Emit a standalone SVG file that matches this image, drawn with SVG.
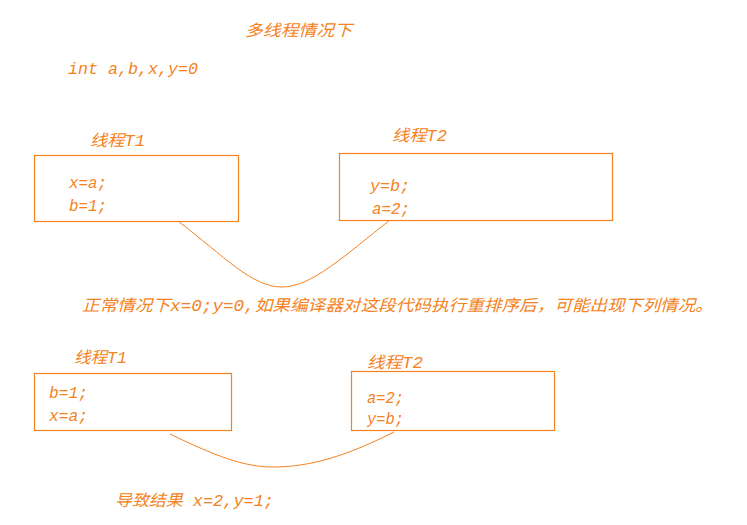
<svg xmlns="http://www.w3.org/2000/svg" width="747" height="525" viewBox="0 0 747 525">
<style>
  text { font-family: "Liberation Mono", "Noto Sans CJK SC", monospace; font-style: italic; font-size: 16px; fill: #F58220; }
  .box { fill: none; stroke: #F58220; stroke-width: 1.2; }
  .conn { fill: none; stroke: #F58220; stroke-width: 1; }
</style>
<rect width="747" height="525" fill="#ffffff"/>
<g id="title">
  <text x="245" y="36" textLength="107" lengthAdjust="spacingAndGlyphs">多线程情况下</text>
</g>
<g id="decl">
  <text x="68" y="74" textLength="130" lengthAdjust="spacingAndGlyphs">int a,b,x,y=0</text>
</g>
<g id="t1-top">
  <text x="90" y="146" textLength="55" lengthAdjust="spacingAndGlyphs">线程T1</text>
  <rect class="box" x="34.5" y="155.5" width="204" height="66"/>
  <text x="69" y="188" textLength="38" lengthAdjust="spacingAndGlyphs">x=a;</text>
  <text x="69" y="211" textLength="38" lengthAdjust="spacingAndGlyphs">b=1;</text>
</g>
<g id="t2-top">
  <text x="392" y="141" textLength="55" lengthAdjust="spacingAndGlyphs">线程T2</text>
  <rect class="box" x="339.5" y="153.5" width="273" height="67"/>
  <text x="370" y="191" textLength="40" lengthAdjust="spacingAndGlyphs">y=b;</text>
  <text x="372" y="214" textLength="38" lengthAdjust="spacingAndGlyphs">a=2;</text>
</g>
<g id="note">
  <text x="82" y="311" textLength="631" lengthAdjust="spacingAndGlyphs">正常情况下x=0;y=0,如果编译器对这段代码执行重排序后，可能出现下列情况。</text>
</g>
<g id="t1-bottom">
  <text x="74" y="363" textLength="53" lengthAdjust="spacingAndGlyphs">线程T1</text>
  <rect class="box" x="34.5" y="373.5" width="197" height="57"/>
  <text x="49" y="398" textLength="39" lengthAdjust="spacingAndGlyphs">b=1;</text>
  <text x="49" y="421" textLength="39" lengthAdjust="spacingAndGlyphs">x=a;</text>
</g>
<g id="t2-bottom">
  <text x="367" y="368" textLength="56" lengthAdjust="spacingAndGlyphs">线程T2</text>
  <rect class="box" x="351.5" y="371.5" width="203" height="59"/>
  <text x="367" y="403" textLength="37" lengthAdjust="spacingAndGlyphs">a=2;</text>
  <text x="367" y="424" textLength="37" lengthAdjust="spacingAndGlyphs">y=b;</text>
</g>
<g id="result">
  <text x="115" y="506" textLength="159" lengthAdjust="spacingAndGlyphs">导致结果 x=2,y=1;</text>
</g>
<g id="connectors">
  <path class="conn" d="M178,221 C225,257 252,287 282,287 C312,287 345,255 390,220"/>
  <path class="conn" d="M170,434 C215,456 245,467 272,467 C300,467 335,462 394,432"/>
</g>
</svg>
